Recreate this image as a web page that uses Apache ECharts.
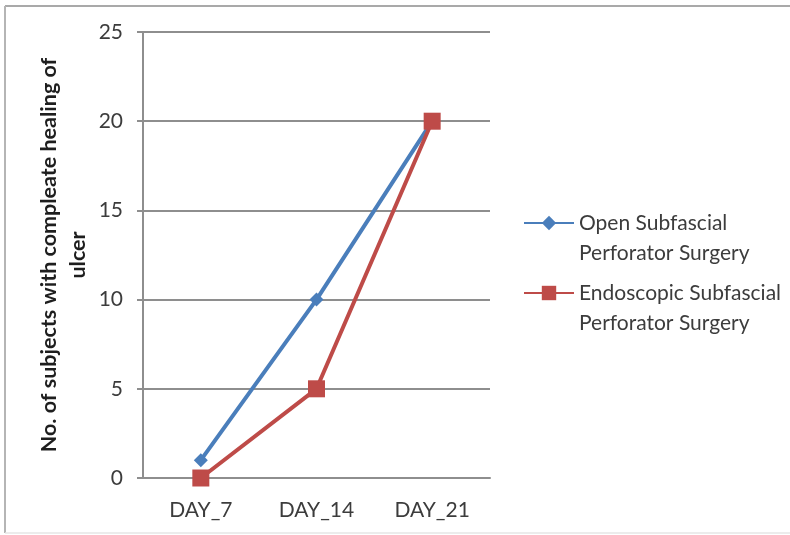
<!DOCTYPE html>
<html>
<head>
<meta charset="utf-8">
<title>Complete healing of ulcer</title>
<script src="https://cdn.jsdelivr.net/npm/echarts@6/dist/echarts.min.js"></script>
<style>
  html, body { margin: 0; padding: 0; background: #ffffff; }
  #chart { width: 790px; height: 535px; }
</style>
</head>
<body>
<div id="chart"></div>
<script>
// Healing follow-up days
const days = ['DAY_7', 'DAY_14', 'DAY_21'];

// Number of subjects with complete healing of ulcer
const openSurgery = [1, 10, 20];
const endoscopicSurgery = [0, 5, 20];

// Value axis ticks
const yTicks = [0, 5, 10, 15, 20, 25];

const seriesNames = [
  'Open Subfascial Perforator Surgery',
  'Endoscopic Subfascial Perforator Surgery'
];

const FONT = 'Lato, "Open Sans", sans-serif';
const GRID_COLOR = '#8e8e8e';
const TEXT_COLOR = '#3c3c3c';

// One legend block per series; a leading blank line keeps the
// icon level with the first line of the two-line label.
function legendBlock(name, top) {
  return {
    orient: 'vertical',
    left: 523,
    top: top,
    padding: 0,
    itemWidth: 50,
    itemHeight: 18,
    data: [name],
    formatter: function (n) {
      return '\n' + n.replace(' Perforator', '\nPerforator');
    },
    textStyle: {
      fontFamily: FONT,
      fontSize: 21,
      color: TEXT_COLOR,
      lineHeight: 30
    }
  };
}

const chart = echarts.init(document.getElementById('chart'), null, { renderer: 'canvas' });

chart.setOption({
  animation: false,
  backgroundColor: '#ffffff',
  textStyle: { fontFamily: FONT },
  graphic: [
    // outer frame of the chart area
    { type: 'line', shape: { x1: 5, y1: 6, x2: 790, y2: 6 }, style: { stroke: '#a9a9a9', lineWidth: 2 } },
    { type: 'line', shape: { x1: 5, y1: 6, x2: 5, y2: 533 }, style: { stroke: '#b5b5b5', lineWidth: 2 } },
    { type: 'line', shape: { x1: 5, y1: 533, x2: 790, y2: 533 }, style: { stroke: '#e6e6e6', lineWidth: 1.5 } }
  ],
  grid: { left: 143, right: 300, top: 32, bottom: 57, containLabel: false },
  legend: [
    legendBlock(seriesNames[0], 178),
    legendBlock(seriesNames[1], 248)
  ],
  xAxis: {
    type: 'category',
    data: days,
    boundaryGap: true,
    axisLine: { show: true, lineStyle: { color: GRID_COLOR, width: 2 } },
    axisTick: { show: false },
    axisLabel: { color: TEXT_COLOR, fontSize: 21, fontFamily: FONT, margin: 22 },
    splitLine: { show: false }
  },
  yAxis: {
    type: 'value',
    min: yTicks[0],
    max: yTicks[yTicks.length - 1],
    interval: yTicks[1] - yTicks[0],
    name: 'No. of subjects with compleate healing of\nulcer',
    nameLocation: 'middle',
    nameRotate: 90,
    nameGap: 50,
    nameTextStyle: {
      fontFamily: FONT,
      fontSize: 21.5,
      fontWeight: 'bold',
      color: '#1e1e1e',
      lineHeight: 29
    },
    axisLine: { show: true, lineStyle: { color: GRID_COLOR, width: 2 } },
    axisTick: { show: true, length: 6, lineStyle: { color: GRID_COLOR, width: 2 } },
    axisLabel: { color: TEXT_COLOR, fontSize: 21, fontFamily: FONT, margin: 20 },
    splitLine: { show: true, lineStyle: { color: GRID_COLOR, width: 2 } }
  },
  series: [
    {
      name: seriesNames[0],
      type: 'line',
      data: openSurgery,
      symbol: 'diamond',
      symbolSize: 14,
      lineStyle: { color: '#4a7ebb', width: 4 },
      itemStyle: { color: '#4a7ebb' },
      z: 2
    },
    {
      name: seriesNames[1],
      type: 'line',
      data: endoscopicSurgery,
      symbol: 'rect',
      symbolSize: 17,
      lineStyle: { color: '#be4b48', width: 4 },
      itemStyle: { color: '#be4b48' },
      z: 3
    }
  ]
});
</script>
</body>
</html>
